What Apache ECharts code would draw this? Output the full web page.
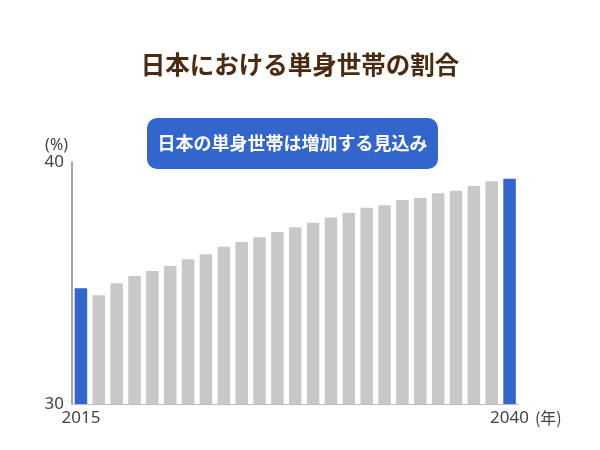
<!DOCTYPE html>
<html>
<head>
<meta charset="utf-8">
<script src="https://cdn.jsdelivr.net/npm/echarts@6/dist/echarts.min.js"></script>
<style>html,body{margin:0;padding:0;background:#fff}#c{width:600px;height:450px}</style>
</head>
<body>
<div id="c"></div>
<script>
const tickLabels = ['2015','','','','','','','','','','','','','','','','','','','','','','','','2040'];
const values = [34.78,34.49,34.99,35.29,35.50,35.70,35.98,36.19,36.50,36.69,36.89,37.11,37.30,37.49,37.71,37.90,38.11,38.21,38.43,38.51,38.71,38.81,39.01,39.20,39.31];
const highlightIdx = [0, 24];
const titleText = '日本における単身世帯の割合';
const noteText = '日本の単身世帯は増加する見込み';

const BLUE = '#3366cc', GREY = '#c8c8c8';
const chart = echarts.init(document.getElementById('c'));
chart.setOption({
  backgroundColor: '#fff',
  animation: false,
  title: {
    text: titleText, left: 'center', top: 47,
    textStyle: {fontFamily: 'Noto Sans CJK JP', fontWeight: 'bold', fontSize: 24.5, color: '#4b2a10'}
  },
  grid: {left: 72, right: 81.5, top: 162, bottom: 46},
  xAxis: {
    type: 'category',
    data: tickLabels.map((t, i) => t === '' ? ' '.repeat(i) : t),
    boundaryGap: true,
    name: '(年)', nameLocation: 'end', nameGap: 10,
    nameTextStyle: {fontFamily: 'Noto Sans CJK JP', fontSize: 16, color: '#444', verticalAlign: 'top', padding: [6, 0, 0, 0]},
    axisLine: {lineStyle: {color: '#bbb', width: 1}},
    axisTick: {show: false},
    axisLabel: {interval: 0, fontFamily: 'Noto Sans', fontSize: 17, color: '#444', margin: 6,
      formatter: v => v.trim()}
  },
  yAxis: {
    type: 'value', min: 30, max: 40, interval: 10,
    name: '(%)', nameLocation: 'end', nameGap: 3,
    nameTextStyle: {fontFamily: 'Noto Sans', fontSize: 16, color: '#444', align: 'right', padding: [0, 4, 0, 0]},
    axisLine: {show: true, lineStyle: {color: '#888', width: 1.5}},
    axisTick: {show: false},
    splitLine: {show: false},
    axisLabel: {fontFamily: 'Noto Sans', fontSize: 17, color: '#444', margin: 8}
  },
  series: [{
    type: 'bar',
    barWidth: '70%',
    data: values.map((v, i) => ({value: v, itemStyle: {color: highlightIdx.includes(i) ? BLUE : GREY}}))
  }],
  graphic: [{
    type: 'group',
    children: [
      {type: 'rect', shape: {x: 147, y: 118, width: 291, height: 51, r: 10}, style: {fill: BLUE}},
      {type: 'text', x: 292.5, y: 143.5, style: {text: noteText, fill: '#fff', font: 'bold 18px "Noto Sans CJK JP"', align: 'center', verticalAlign: 'middle'}}
    ]
  }]
});
</script>
</body>
</html>
